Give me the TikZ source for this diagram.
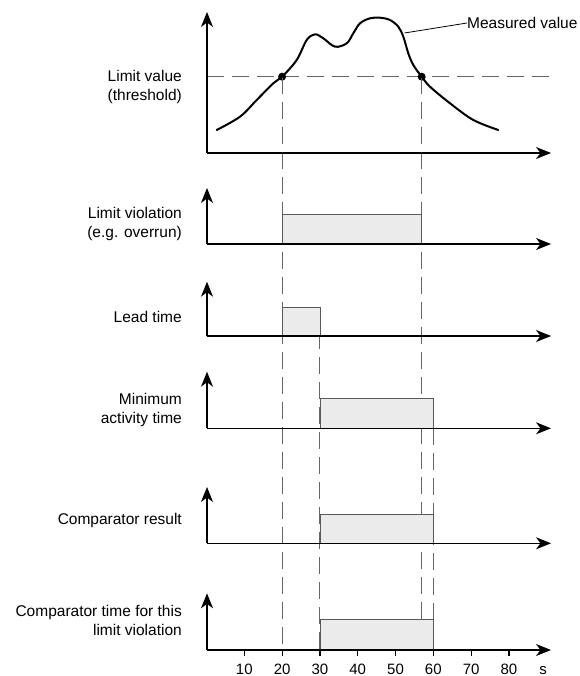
\documentclass[tikz,border=0pt]{standalone}
\usepackage{fontspec}
\setmainfont{Liberation Sans}
\usetikzlibrary{arrows.meta}
\begin{document}
\begin{tikzpicture}[x=1pt,y=-1pt,
  axis/.style={line width=1.3pt,-{Stealth[length=15pt,width=12pt,inset=4.5pt]}},
  guide/.style={draw=black!60, line width=0.9pt, dash pattern=on 17pt off 8pt},
  pulse/.style={fill=black!8, draw=black!65, line width=0.8pt},
  lbl/.style={font=\fontsize{15.5}{19}\selectfont, align=right, anchor=east, inner sep=0pt},
  ticklbl/.style={font=\fontsize{15}{18}\selectfont, anchor=base, inner sep=0pt},
  dot/.style={circle, fill=black, inner sep=0pt, minimum size=8pt}]
\useasboundingbox (0,0) rectangle (579,676);
\def\ox{207}
% threshold
\coordinate (thL) at (\ox,76.7);
\coordinate (thR) at (552,76.7);
\draw[guide] (thL) -- (thR);
% crossing points
\node[dot] (c1) at (282.1,76.7) {};
\node[dot] (c2) at (421.7,76.7) {};
% guide ends
\coordinate (g20b) at (282.1,650);
\coordinate (g30a) at (319.9,307.3);
\coordinate (g30b) at (319.9,650);
\coordinate (g57b) at (421.7,619.3);
\coordinate (g60a) at (433.3,428.3);
\coordinate (g60b) at (433.3,619.3);
\draw[guide] (c1.center) -- (g20b);
\draw[guide] (g30a) -- (g30b);
\draw[guide] (c2.center) -- (g57b);
\draw[guide] (g60a) -- (g60b);
% pulses
\draw[pulse] (282.1,214) rectangle (421.7,244);
\draw[pulse] (282.1,307.3) rectangle (319.9,336);
\draw[pulse] (319.9,398.3) rectangle (433.3,428.3);
\draw[pulse] (319.9,514.3) rectangle (433.3,543.3);
\draw[pulse] (319.9,619.3) rectangle (433.3,650);
% axes
\foreach \b/\t [count=\i] in {153/12, 244/188, 336/281.7, 428.3/371.7, 543.3/487, 650/593.3}{
  \coordinate (o\i) at (\ox,\b);
  \coordinate (y\i) at (\ox,\t);
  \coordinate (x\i) at (551,\b);
  \draw[axis] (o\i) -- (y\i);
  \draw[axis] (o\i) -- (x\i);
}
% ticks
\foreach \v in {10,20,...,80}{
  \coordinate (tk\v) at ({206.5+3.78*\v},650);
  \draw[line width=1.2pt] (tk\v) -- ++(0,5.5);
  \node[ticklbl] (tl\v) at ({206.5+3.78*\v},674) {\v};
}
\node[ticklbl] (unit) at (543,674) {s};
% measured curve
\draw[line width=2pt, line join=round, line cap=round] plot[smooth, tension=0.55] coordinates {
 (216.7,130) (240,116.7) (256.7,100) (273.3,83.3) (282.1,76.7) (296.7,60) (306.7,40)
 (315,34.3) (323.3,38.3) (335,46.7) (346.7,43.3) (353.3,33.3) (360,23.3) (370,18.3)
 (380,17.7) (390,20) (398.3,26.7) (403.3,36.7) (408.3,53.3) (413.3,65) (421.7,76.7)
 (430,86.7) (450,103.3) (473.3,120) (498.3,130)};
\node[font=\fontsize{15.5}{19}\selectfont, anchor=west, inner sep=0pt] (mv) at (467,23) {Measured value};
\coordinate (lead) at (404.5,33);
\draw[line width=0.8pt] (mv.west) -- (lead);
% labels
\node[lbl] (l1) at (182,87) {Limit value\\(threshold)};
\node[lbl] (l2) at (182,224) {Limit violation\\(e.g. overrun)};
\node[lbl] (l3) at (182,316.7) {Lead time};
\node[lbl] (l4) at (182,410) {Minimum\\activity time};
\node[lbl] (l5) at (182,520.7) {Comparator result};
\node[lbl] (l6) at (182,620) {Comparator time for this\\limit violation};
\end{tikzpicture}
\end{document}
